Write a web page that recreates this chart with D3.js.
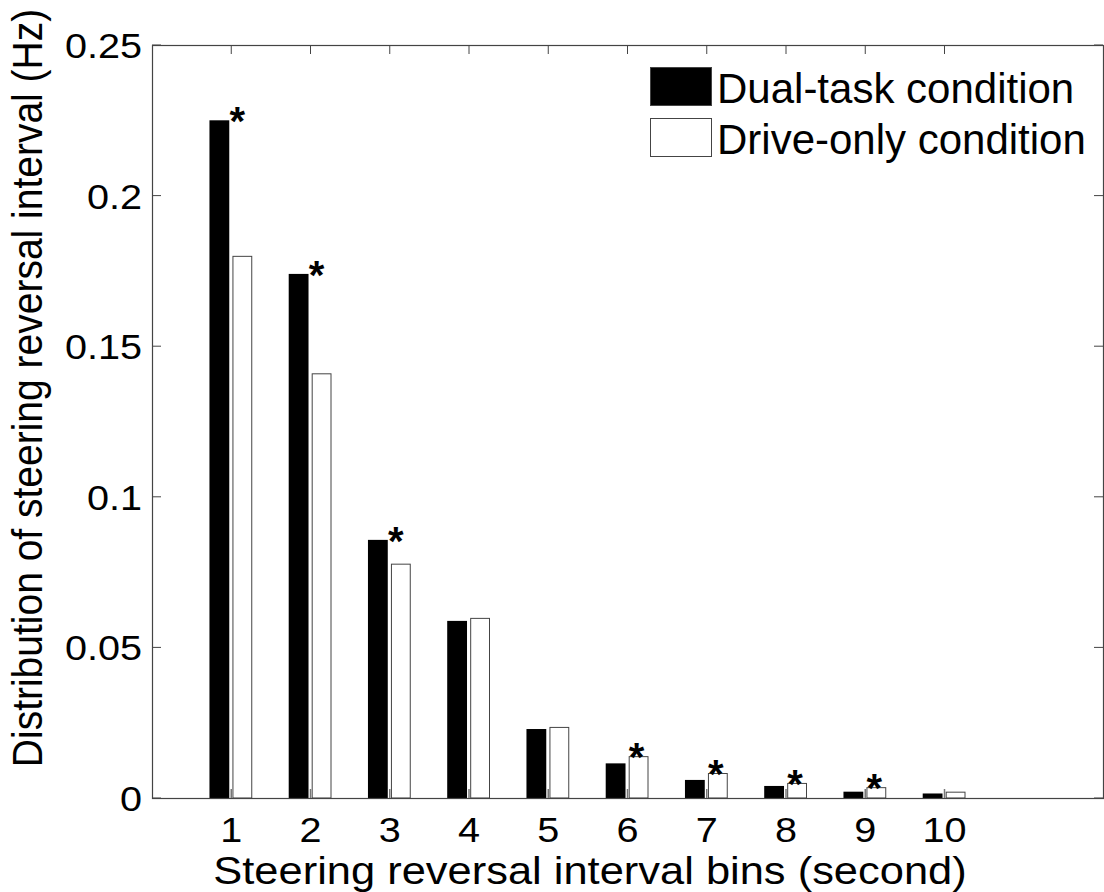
<!DOCTYPE html>
<html>
<head>
<meta charset="utf-8">
<script src="https://cdn.jsdelivr.net/npm/d3@7"></script>
<style>
  html, body { margin: 0; padding: 0; background: #fff; }
  text { font-family: "Liberation Sans", Arial, sans-serif; fill: #000; }
</style>
</head>
<body>
<div id="chart"></div>
<script>
// values
var bins = [1, 2, 3, 4, 5, 6, 7, 8, 9, 10];
var dualTask  = [0.225, 0.174, 0.0857, 0.0588, 0.0229, 0.0115, 0.0060, 0.0040, 0.0021, 0.0015];
var driveOnly = [0.180, 0.141, 0.0778, 0.0598, 0.0236, 0.0139, 0.0083, 0.0050, 0.0036, 0.0021];
// bins with a significance star, and which series it sits on
var dualStars  = [1, 2, 3];
var driveStars = [6, 7, 8, 9];
var yTicks = [0, 0.05, 0.1, 0.15, 0.2, 0.25];
var seriesNames = ["Dual-task condition", "Drive-only condition"];

var width = 1104, height = 892
 ,  margin = {left: 152, top: 45, right: 1, bottom: 94}
 ,  sx = 1.1; // the figure was stretched a little sideways

var x = d3.scaleLinear().domain([0, 12]).range([margin.left, width - margin.right]);
var y = d3.scaleLinear().domain([0, 0.25]).range([height - margin.bottom, margin.top]);

var svg = d3.select("#chart").append("svg")
  .attr("width", width)
  .attr("height", height);

var stretch = function(px, py, extra, s) {
  return "translate(" + px + "," + py + ") scale(" + (s || sx) + ",1)" + (extra || "");
};

// bars
var barW = 0.25;
var dualOff = -0.275, driveOff = 0.015;

svg.selectAll(".dual").data(bins)
  .enter().append("rect")
    .attr("class", "dual")
    .attr("x", function(d) { return x(d + dualOff); })
    .attr("width", function(d) { return x(d + dualOff + barW) - x(d + dualOff); })
    .attr("y", function(d, i) { return y(dualTask[i]); })
    .attr("height", function(d, i) { return y(0) - y(dualTask[i]); })
    .attr("fill", "#000");

svg.selectAll(".drive").data(bins)
  .enter().append("rect")
    .attr("class", "drive")
    .attr("x", function(d) { return x(d + driveOff) + 0.5; })
    .attr("width", function(d) { return x(d + driveOff + barW) - x(d + driveOff) - 1; })
    .attr("y", function(d, i) { return y(driveOnly[i]) + 0.5; })
    .attr("height", function(d, i) { return y(0) - y(driveOnly[i]) - 0.5; })
    .attr("fill", "#fff")
    .attr("stroke", "#444")
    .attr("stroke-width", 1);

// stars
var starSize = 40;
svg.selectAll(".star-dual").data(dualStars)
  .enter().append("text")
    .attr("class", "star-dual")
    .attr("font-size", starSize)
    .attr("font-weight", "bold")
    .attr("text-anchor", "middle")
    .attr("x", function(d) { return x(d + dualOff + barW) + 8; })
    .attr("y", function(d) { return y(dualTask[bins.indexOf(d)]) + 15; })
    .text("*");

svg.selectAll(".star-drive").data(driveStars)
  .enter().append("text")
    .attr("class", "star-drive")
    .attr("font-size", starSize)
    .attr("font-weight", "bold")
    .attr("text-anchor", "middle")
    .attr("x", function(d) { return x(d + driveOff + barW / 2) - 2; })
    .attr("y", function(d) { return y(driveOnly[bins.indexOf(d)]) + 15; })
    .text("*");

// axes box and ticks
var axisColor = "#444", tickLen = 9;
svg.append("rect")
  .attr("x", x(0) + 0.5)
  .attr("y", y(0.25) + 0.5)
  .attr("width", x(12) - x(0))
  .attr("height", y(0) - y(0.25))
  .attr("fill", "none")
  .attr("stroke", axisColor)
  .attr("stroke-width", 1.2);

var xTickG = svg.append("g");
bins.forEach(function(b) {
  xTickG.append("line")
    .attr("x1", x(b)).attr("x2", x(b))
    .attr("y1", y(0)).attr("y2", y(0) - tickLen)
    .attr("stroke", "#777").attr("stroke-width", 1.5);
  xTickG.append("line")
    .attr("x1", x(b)).attr("x2", x(b))
    .attr("y1", y(0.25)).attr("y2", y(0.25) + tickLen)
    .attr("stroke", axisColor).attr("stroke-width", 1);
  xTickG.append("text")
    .attr("font-size", 36)
    .attr("text-anchor", "middle")
    .attr("transform", stretch(x(b), y(0) + 44))
    .text(b);
});

var yTickG = svg.append("g");
yTicks.forEach(function(t) {
  yTickG.append("line")
    .attr("x1", x(0)).attr("x2", x(0) + tickLen)
    .attr("y1", y(t)).attr("y2", y(t))
    .attr("stroke", axisColor).attr("stroke-width", 1);
  yTickG.append("line")
    .attr("x1", x(12)).attr("x2", x(12) - tickLen)
    .attr("y1", y(t)).attr("y2", y(t))
    .attr("stroke", axisColor).attr("stroke-width", 1);
  yTickG.append("text")
    .attr("font-size", 36)
    .attr("text-anchor", "end")
    .attr("transform", stretch(x(0) - 10, y(t) + 13))
    .text(t);
});

// axis labels
svg.append("text")
  .attr("font-size", 39.5)
  .attr("text-anchor", "middle")
  .attr("transform", stretch(590, 884))
  .text("Steering reversal interval bins (second)");

svg.append("text")
  .attr("font-size", 39)
  .attr("text-anchor", "middle")
  .attr("transform", stretch(42, 388, " rotate(-90)"))
  .text("Distribution of steering reversal interval (Hz)");

// legend
var legend = svg.append("g").attr("transform", "translate(650, 67)");
var legRow = legend.selectAll(".leg").data(seriesNames)
  .enter().append("g")
    .attr("class", "leg")
    .attr("transform", function(d, i) { return "translate(0," + (i * 51) + ")"; });

legRow.append("rect")
  .attr("x", 0.5).attr("y", 0.5)
  .attr("width", 61).attr("height", 38)
  .attr("fill", function(d, i) { return i === 0 ? "#000" : "#fff"; })
  .attr("stroke", "#444");

legRow.append("text")
  .attr("font-size", 42)
  .attr("transform", stretch(67, 36, "", 1.0))
  .text(function(d) { return d; });
</script>
</body>
</html>
